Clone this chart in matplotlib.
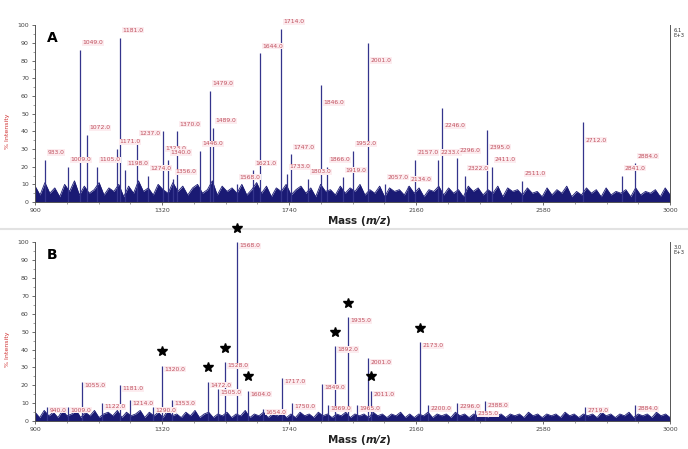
import numpy as np
import matplotlib.pyplot as plt

# peak list, panel A (m/z, % intensity)
masses_a = [933, 1009, 1049, 1072, 1105, 1171, 1181, 1198, 1237, 1274, 1323, 1340,
            1356, 1370, 1446, 1479, 1489, 1568, 1621, 1644, 1714, 1733, 1747, 1803,
            1846, 1866, 1919, 1952, 2001, 2057, 2134, 2157, 2233, 2246, 2296, 2322,
            2395, 2411, 2511, 2712, 2841, 2884]
heights_a = [24, 20, 86, 38, 20, 30, 93, 18, 35, 15, 40, 24,
             13, 40, 29, 63, 42, 10, 18, 84, 98, 16, 27, 13,
             66, 20, 14, 29, 90, 10, 9, 24, 24, 53, 25, 15,
             41, 20, 12, 45, 15, 22]
low_labels_a = [1323, 1846, 2001, 2246, 2395, 2712]

# peak list, panel B
masses_b = [940, 1009, 1055, 1122, 1181, 1214, 1290, 1320, 1353, 1472, 1505, 1528,
            1568, 1604, 1654, 1717, 1750, 1849, 1869, 1892, 1935, 1965, 2001, 2011,
            2173, 2200, 2296, 2355, 2388, 2719, 2884]
heights_b = [8, 8, 22, 10, 20, 12, 8, 31, 12, 22, 18, 33,
             100, 17, 7, 24, 10, 21, 9, 42, 58, 9, 35, 17,
             44, 9, 10, 6, 11, 8, 9]
starred_b = [1320, 1472, 1528, 1568, 1604, 1892, 1935, 2011, 2173]

# baseline noise (% intensity), evenly across 900-3000
noise_a = [9, 4, 11, 5, 8, 3, 10, 6, 12, 4, 9, 5, 7, 11, 4, 8, 6, 10, 3, 9, 5, 12, 6, 8, 4, 10, 7, 5, 11, 6, 9, 4, 8, 10, 5, 7, 12, 4, 9, 6,
           8, 5, 10, 4, 7, 11, 5, 9, 3, 8, 6, 10, 4, 7, 9, 5, 8, 3, 10, 6, 7, 4, 9, 5, 8, 6, 10, 4, 7, 5,
           9, 3, 8, 6, 7, 4, 9, 5, 8, 3, 7, 6, 9, 4, 8, 5, 7, 3, 9, 6, 8, 4, 7, 5, 9, 3, 8, 6, 7, 4,
           8, 5, 6, 3, 8, 4, 7, 5, 9, 3, 6, 4, 8, 5, 7, 3, 8, 4, 6, 5, 7, 3, 8, 4, 6, 5, 7, 3, 8, 4]
noise_b = [5, 2, 6, 3, 5, 2, 6, 3, 4, 6, 2, 5, 3, 6, 2, 4, 5, 3, 6, 2, 5, 3, 4, 6, 2, 5, 3, 5, 2, 6,
           3, 4, 2, 5, 3, 6, 2, 4, 5, 2, 4, 3, 5, 2, 4, 3, 6, 2, 4, 3, 5, 2, 4, 3, 5, 2, 4, 2, 5, 3,
           4, 2, 5, 3, 4, 2, 4, 3, 5, 2, 4, 3, 4, 2, 5, 3, 4, 2, 4, 3, 5, 2, 4, 2, 4, 3, 5, 2, 4, 3,
           4, 2, 5, 3, 4, 2, 4, 3, 4, 2, 5, 3, 4, 2, 4, 3, 4, 2, 5, 3, 4, 2, 4, 3, 4, 2, 5, 3, 4, 2,
           4, 3, 4, 2, 5, 3, 4, 2, 4, 3, 5, 2, 4, 3, 4, 2, 5, 3, 4, 2]

x_ticks = [900, 1320, 1740, 2160, 2580, 3000]
y_ticks = [0, 10, 20, 30, 40, 50, 60, 70, 80, 90, 100]

NAVY = '#1a1a74'
PEAK = '#34348c'
LABEL = '#c0505e'


def draw_panel(ax, noise, masses, heights, letter, scale_text, label_dy, low_labels=(), starred=()):
    xn = np.linspace(x_ticks[0], x_ticks[-1], len(noise))
    ax.fill_between(xn, 0, noise, color=NAVY, lw=0)
    ax.plot(xn, noise, color=NAVY, lw=0.6)
    ax.vlines(masses, 0, heights, color=PEAK, lw=0.9)
    for m, h in zip(masses, heights):
        dy = -10 if m in low_labels else label_dy
        ax.text(m + 8, h + dy, f"{m:.1f}", fontsize=4.3, color=LABEL, ha='left', va='center',
                bbox=dict(facecolor='#fcecef', edgecolor='none', pad=0.4))
    for m in starred:
        h = heights[masses.index(m)]
        ax.plot(m, h + 8, marker='*', ms=7, color='black', clip_on=False, zorder=5)

    ax.set_xlim(x_ticks[0], x_ticks[-1])
    ax.set_ylim(0, 100)
    ax.set_xticks(x_ticks)
    ax.set_xticklabels([str(t) for t in x_ticks])
    ax.set_yticks(y_ticks)
    ax.set_yticks(np.arange(5, 100, 10), minor=True)
    ax.set_xticks(np.arange(1005, 3000, 105), minor=True)
    ax.tick_params(labelsize=4.5, labelcolor='#444444', length=2, width=0.6, pad=2.5, color='#555555')
    ax.tick_params(which='minor', length=1.2, width=0.5, color='#777777')
    ax.spines['top'].set_visible(False)
    for s in ['left', 'right', 'bottom']:
        ax.spines[s].set_linewidth(0.7)
        ax.spines[s].set_color('#555555')

    ax.text(0.018, 0.93, letter, transform=ax.transAxes, fontsize=10, fontweight='bold',
            ha='left', va='center')
    ax.text(-0.043, 0.4, '% Intensity', transform=ax.transAxes, rotation=90, fontsize=4.5,
            color='#d03030', ha='center', va='center')
    ax.text(0.51, -0.105, r'Mass ($\mathbfit{m/z}$)', transform=ax.transAxes, fontsize=7.5,
            fontweight='bold', ha='center', va='center', color='#222222')
    ax.text(1.005, 0.955, scale_text, transform=ax.transAxes, fontsize=3.8, color='#333333',
            ha='left', va='center', linespacing=1.0)


fig = plt.figure(figsize=(6.88, 4.49), dpi=100)

# thin divider between the two panels, drawn beneath the axes
fig.add_artist(plt.Line2D([0.0, 1.0], [1 - 229 / 449] * 2, color='#e2e2e2', lw=1.5, zorder=-1))

ax_a = fig.add_axes([0.051, 0.550, 0.923, 0.394])
ax_b = fig.add_axes([0.051, 0.062, 0.923, 0.399])
ax_a.patch.set_alpha(0)
ax_b.patch.set_alpha(0)

draw_panel(ax_a, noise_a, masses_a, heights_a, 'A', '6.1\nE+3', 4, low_labels=low_labels_a)
draw_panel(ax_b, noise_b, masses_b, heights_b, 'B', '3.0\nE+3', -2, starred=starred_b)

fig.savefig('out.png', dpi=100)
